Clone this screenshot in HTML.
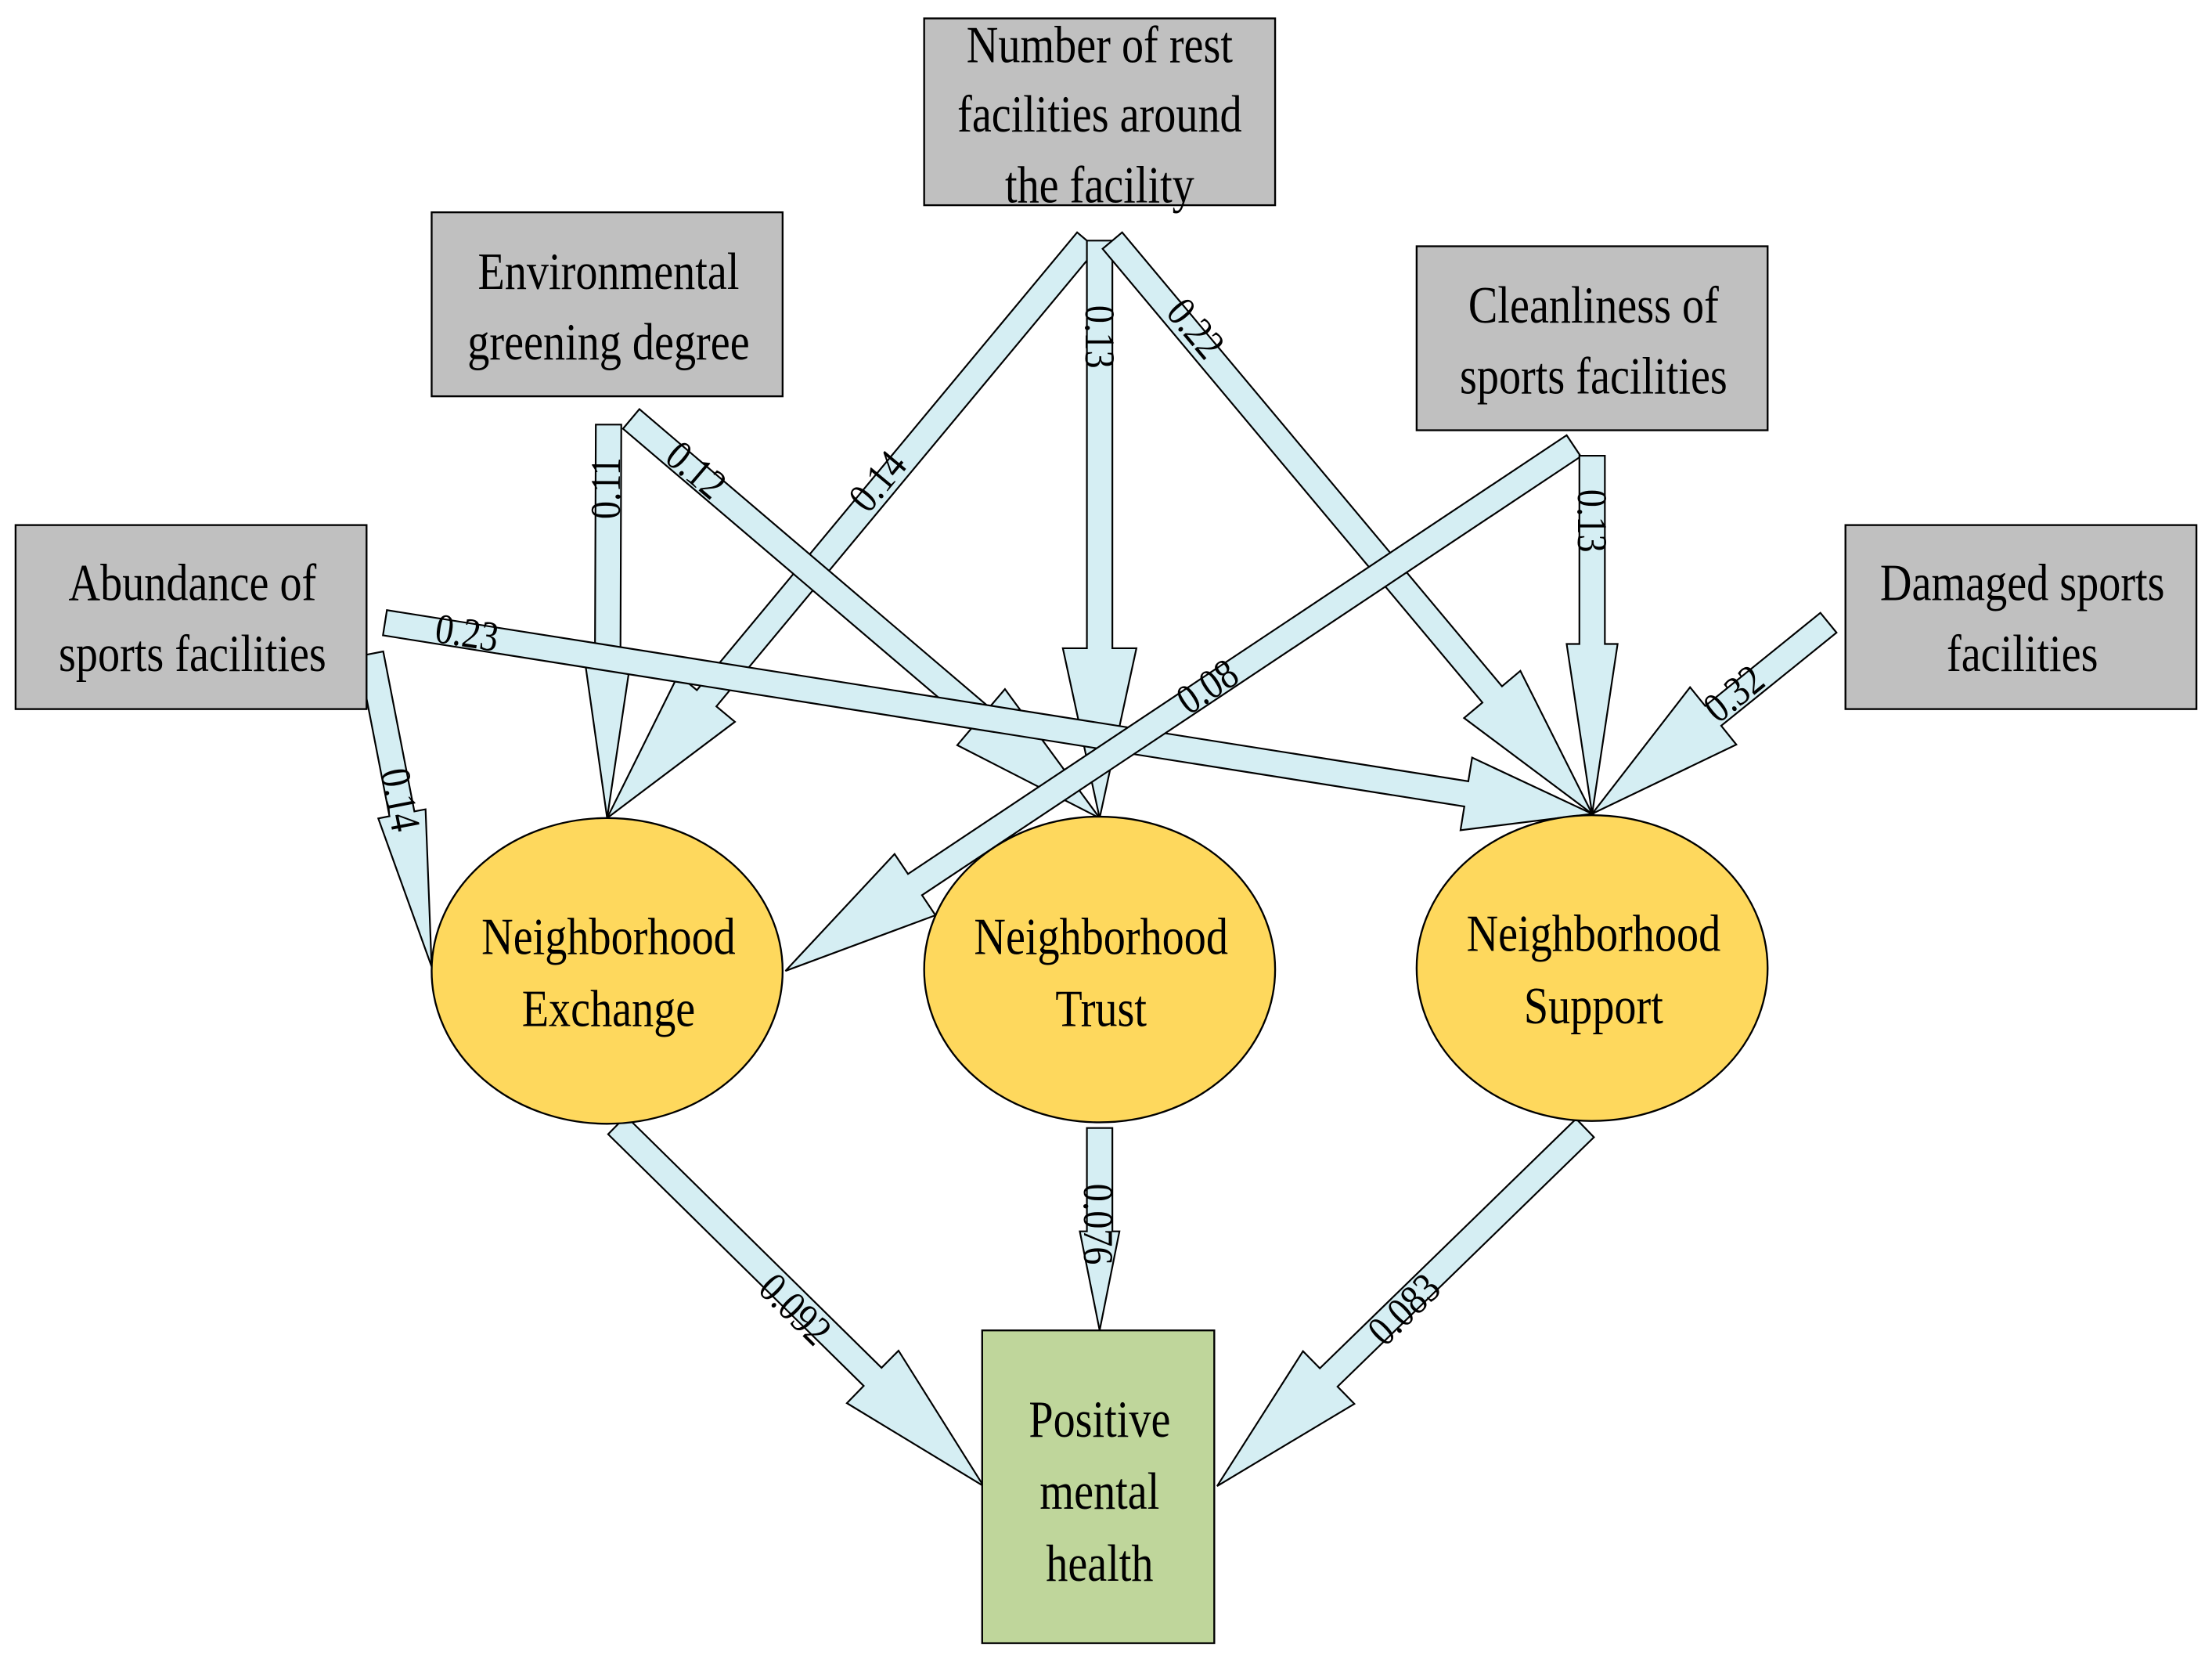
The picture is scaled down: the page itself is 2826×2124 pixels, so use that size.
<!DOCTYPE html>
<html><head><meta charset="utf-8"><style>
html,body{margin:0;padding:0;background:#fff;}
svg{display:block;}
text{font-family:"Liberation Serif",serif;fill:#000;}
</style></head><body>
<svg id="s" width="2826" height="2124" viewBox="0 0 1563 1175" preserveAspectRatio="none" xmlns="http://www.w3.org/2000/svg">
<rect x="0" y="0" width="1563" height="1175" fill="#fff"/>
<g id="arrows"></g>
<g stroke="#000" stroke-width="1.3">
<rect x="653" y="13" width="248" height="132" fill="#c0c0c0"/>
<rect x="305" y="150" width="248" height="130" fill="#c0c0c0"/>
<rect x="1001" y="174" width="248" height="130" fill="#c0c0c0"/>
<rect x="11" y="371" width="248" height="130" fill="#c0c0c0"/>
<rect x="1304" y="371" width="248" height="130" fill="#c0c0c0"/>
<ellipse cx="429" cy="686" rx="124" ry="108" fill="#fed85d"/>
<ellipse cx="777" cy="685" rx="124" ry="108" fill="#fed85d"/>
<ellipse cx="1125" cy="684" rx="124" ry="108" fill="#fed85d"/>
<rect x="694" y="940" width="164" height="221" fill="#bfd69b"/>
</g>
<g font-size="37" text-anchor="middle">
<g transform="translate(777,0) scale(0.84,1)"><text x="0" y="44">Number of rest</text><text x="0" y="93">facilities around</text><text x="0" y="143">the facility</text></g>
<g transform="translate(430,0) scale(0.84,1)"><text x="0" y="204">Environmental</text><text x="0" y="254">greening degree</text></g>
<g transform="translate(1126,0) scale(0.84,1)"><text x="0" y="228">Cleanliness of</text><text x="0" y="278">sports facilities</text></g>
<g transform="translate(136,0) scale(0.84,1)"><text x="0" y="424">Abundance of</text><text x="0" y="474">sports facilities</text></g>
<g transform="translate(1429,0) scale(0.84,1)"><text x="0" y="424">Damaged sports</text><text x="0" y="474">facilities</text></g>
<g transform="translate(430,0) scale(0.84,1)"><text x="0" y="674">Neighborhood</text><text x="0" y="725">Exchange</text></g>
<g transform="translate(778,0) scale(0.84,1)"><text x="0" y="674">Neighborhood</text><text x="0" y="725">Trust</text></g>
<g transform="translate(1126,0) scale(0.84,1)"><text x="0" y="672">Neighborhood</text><text x="0" y="723">Support</text></g>
<g transform="translate(777,0) scale(0.84,1)"><text x="0" y="1015">Positive</text><text x="0" y="1066">mental</text><text x="0" y="1117">health</text></g>
</g>
</svg>
<script>
var A=[
 [768,170,429,578,18,26,110,"0.14"],
 [777,170,777,578,18,26,120,"0.13"],
 [786,170,1125,575,18,26,110,"0.22"],
 [430,300,429,578,18,16,110,"0.11"],
 [446,296,777,578,18,26,110,"0.12"],
 [272,440,1125,575,18,26,90,"0.23"],
 [262,462,305,683,18,17,110,"0.14"],
 [1112,315,555,686,18,26,110,"0.08"],
 [1125,322,1125,575,18,18,120,"0.13"],
 [1292,440,1125,575,18,26,110,"0.32"],
 [436,795,695,1050,18,26,110,"0.092"],
 [777,797,777,940,18,14,70,"0.076"],
 [1120,797,860,1050,18,26,110,"0.083"]
];
var L=[[620,340],[777,238],[845,232],[428,345],[492,332],[330,447],[283,565],[853,485],[1125,368],[1225,490],[562,925],[776,865],[992,925]];
var g=document.getElementById("arrows"),s="";
A.forEach(function(a,i){
 var x1=a[0],y1=a[1],x2=a[2],y2=a[3],w=a[4]/2,hw=a[5],hl=a[6];
 var dx=x2-x1,dy=y2-y1,len=Math.hypot(dx,dy),ux=dx/len,uy=dy/len,px=-uy,py=ux;
 var bx=x2-ux*hl,by=y2-uy*hl;
 var p=[[x1+px*w,y1+py*w],[bx+px*w,by+py*w],[bx+px*hw,by+py*hw],[x2,y2],[bx-px*hw,by-py*hw],[bx-px*w,by-py*w],[x1-px*w,y1-py*w]];
 s+='<polygon points="'+p.map(function(q){return q[0].toFixed(1)+","+q[1].toFixed(1)}).join(" ")+'" fill="#d5eef3" stroke="#000" stroke-width="1.2"/>';
});
A.forEach(function(a,i){
 var ang=Math.atan2(a[3]-a[1],a[2]-a[0])*180/Math.PI;
 if(ang>90)ang-=180; if(ang<-90)ang+=180;
 if(i==11)ang=90;
 s+='<g transform="translate('+L[i][0]+','+L[i][1]+') rotate('+ang.toFixed(1)+') scale(0.85,1)"><text x="0" y="10" font-size="30" text-anchor="middle">'+a[7]+'</text></g>';
});
g.innerHTML=s;
</script>
</body></html>
